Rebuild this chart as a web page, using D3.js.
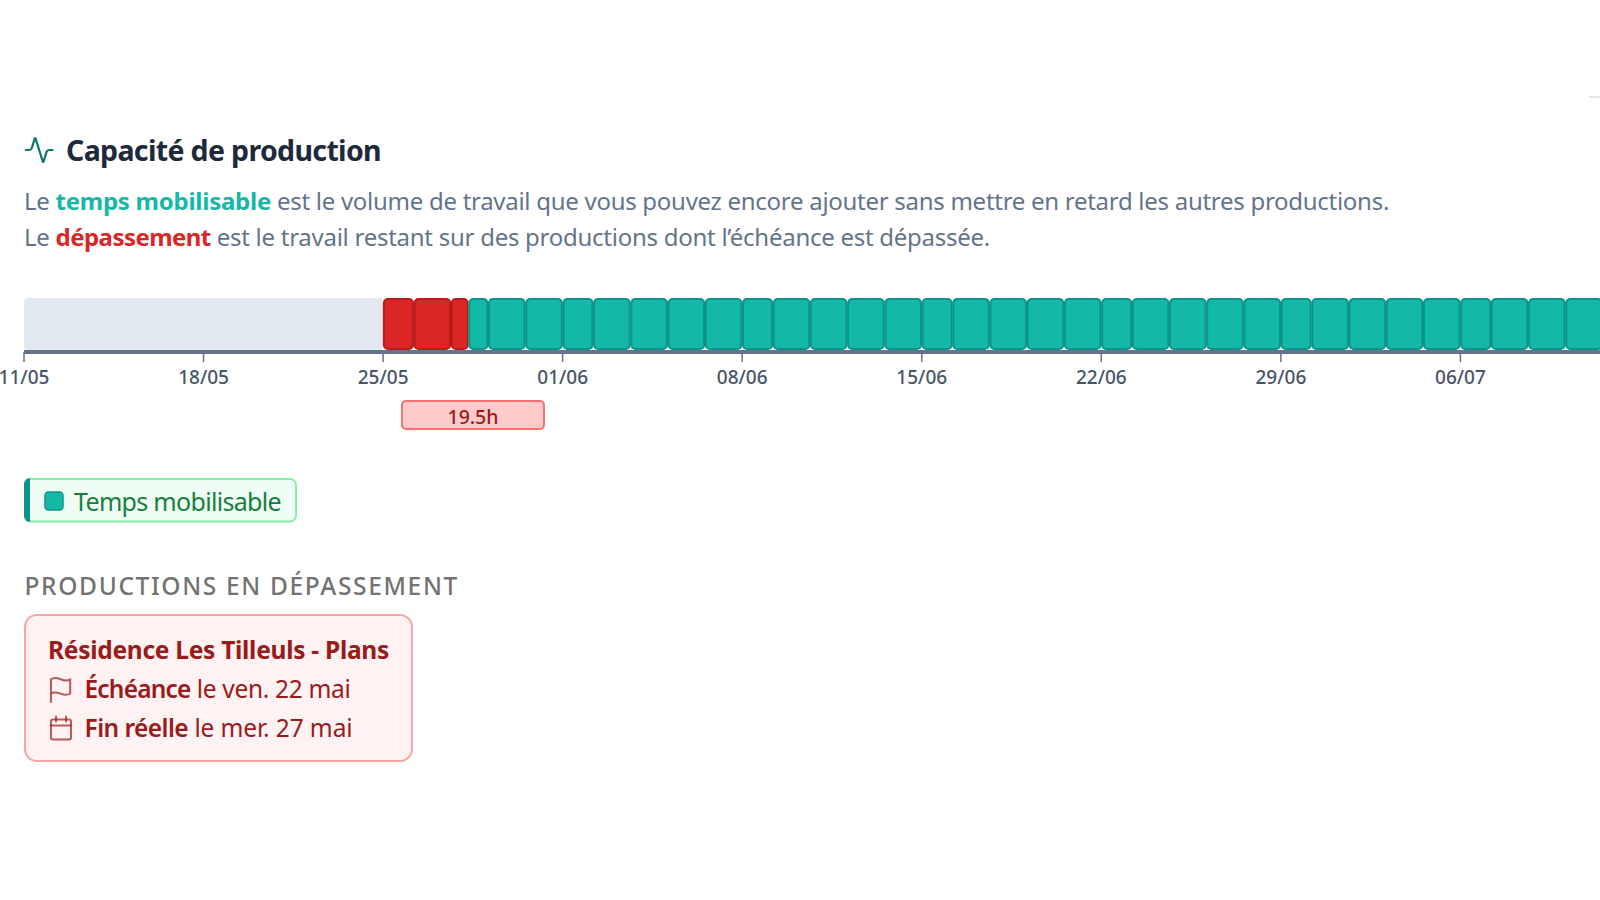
<!DOCTYPE html>
<html lang="fr"><head><meta charset="utf-8">
<script src="https://cdn.jsdelivr.net/npm/d3@7"></script>
<style>html,body{margin:0;padding:0;background:#fff;overflow:hidden}svg{display:block;font-family:"Noto Sans",sans-serif}</style>
</head><body><div id="c"></div>
<script>
const titleText = "Capacité de production";
const pastHours = 82;
const overrunDays = ["25/05","26/05","27/05"];
const overrunHours = [7,8.5,4];
const freeDays = ["27/05","28/05","29/05","01/06","02/06","03/06","04/06","05/06","08/06","09/06","10/06","11/06","12/06","15/06","16/06","17/06","18/06","19/06","22/06","23/06","24/06","25/06","26/06","29/06","30/06","01/07","02/07","03/07","06/07","07/07","08/07","09/07","10/07"];
const freeHours = [4.5,8.5,8.5,7,8.5,8.5,8.5,8.5,7,8.5,8.5,8.5,8.5,7,8.5,8.5,8.5,8.5,7,8.5,8.5,8.5,8.5,7,8.5,8.5,8.5,8.5,7,8.5,8.5,8.5,8.5];
const tickLabels = ["11/05","18/05","25/05","01/06","08/06","15/06","22/06","29/06","06/07"];
const tickHours = [0,41,82,123,164,205,246,287,328];

const svg = d3.select("#c").append("svg").attr("width",1600).attr("height",900);
const x = d3.scaleLinear().domain([0,328]).range([24,1460.4]);

function rich(y,xp,size,parts,w){
  const t=svg.append("text").attr("x",xp).attr("y",y).attr("font-size",size);
  let free=0;
  parts.forEach(p=>{const s=t.append("tspan").text(p[0]).attr("fill",p[1]).attr("font-weight",p[2]);
    if(p[3]!==undefined)s.attr("letter-spacing",p[3]);else free+=p[0].length;});
  if(w&&free){const l=t.node().getComputedTextLength();t.attr("letter-spacing",((w-l)/free).toFixed(3));}
  return t;
}
svg.append("rect").attr("x",1589).attr("y",96).attr("width",11).attr("height",2).attr("fill","#e5e5e5");

svg.append("path").attr("transform","translate(23.2,135.6) scale(1.33,1.2)")
  .attr("d","M22 12h-2.48a2 2 0 0 0-1.93 1.46l-2.35 8.36a.25.25 0 0 1-.48 0L9.24 2.18a.25.25 0 0 0-.48 0l-2.35 8.36A2 2 0 0 1 4.49 12H2")
  .attr("fill","none").attr("stroke","#0f766e").attr("stroke-width",1.7).attr("stroke-linecap","round").attr("stroke-linejoin","round");
rich(161,66,28.5,[[titleText,"#1e293b",700]],315);

const G="#64748b";
rich(209.5,24,24,[["Le ",G,400],["temps mobilisable","#14b8a6",700,-0.25],[" est le volume de travail que vous pouvez encore ajouter sans mettre en retard les autres productions.",G,400]],1365);
rich(246,24,24,[["Le ",G,400],["dépassement","#dc2626",700,-0.55],[" est le travail restant sur des productions dont l’échéance est dépassée.",G,400]],966);

const barTop=298,barH=52;
svg.append("rect").attr("x",x(0)).attr("y",barTop).attr("width",x(pastHours)-x(0)).attr("height",barH).attr("rx",4).attr("fill","#e2e8f0");
function stack(days,hours,start,fill,stroke){
  let acc=start;
  const rows=days.map((d,i)=>{const r={d,h0:acc,h1:acc+hours[i]};acc+=hours[i];return r;});
  svg.append("g").selectAll("rect").data(rows).join("rect")
    .attr("x",r=>x(r.h0)+.8).attr("y",barTop+1).attr("width",r=>x(r.h1)-x(r.h0)-1.6).attr("height",barH-2)
    .attr("rx",4).attr("fill",fill).attr("stroke",stroke).attr("stroke-width",2);
  return acc;
}
const e=stack(overrunDays,overrunHours,pastHours,"#dc2626","#b91c1c");
stack(freeDays,freeHours,e,"#14b8a6","#0d9488");

const axis=d3.axisBottom(x).tickValues(tickHours).tickFormat((d,i)=>tickLabels[i]).tickSize(10).tickPadding(9);
const ag=svg.append("g").attr("transform","translate(-0.5,352)").call(axis);
ag.select(".domain").remove();
ag.selectAll(".tick line").attr("stroke","#64748b").attr("stroke-width",1.5);
ag.selectAll(".tick text").attr("fill","#475569").attr("font-size",19).attr("font-family",'"Noto Sans",sans-serif').attr("font-weight",500);
svg.append("line").attr("x1",x(0)).attr("x2",1600).attr("y1",352).attr("y2",352).attr("stroke","#64748b").attr("stroke-width",4);

const pillHours=19.5;
svg.append("rect").attr("x",402).attr("y",401).attr("width",142).attr("height",28).attr("rx",4).attr("fill","#fecaca").attr("stroke","#f87171").attr("stroke-width",2);
svg.append("text").attr("x",473).attr("y",424).attr("text-anchor","middle").attr("font-size",19.5).attr("font-weight",500).attr("fill","#991b1b").text(pillHours+"h");

svg.append("rect").attr("x",25).attr("y",479).attr("width",271).attr("height",42.5).attr("rx",6).attr("fill","#f0fdf4").attr("stroke","#86efac").attr("stroke-width",2);
svg.append("path").attr("d","M30 478H30a6 6 0 0 0-6 6v32a6 6 0 0 0 6 6z").attr("fill","#0d9488");
svg.append("rect").attr("x",45).attr("y",492).attr("width",18).attr("height",18).attr("rx",3.5).attr("fill","#14b8a6").attr("stroke","#0d9488").attr("stroke-width",1.5);
rich(511,74,25,[["Temps mobilisable","#15803d",400]],207);

rich(595,24.5,24.5,[["PRODUCTIONS EN DÉPASSEMENT","#737373",500]],434.5);
svg.append("rect").attr("x",25).attr("y",615).attr("width",387).attr("height",146).attr("rx",12).attr("fill","#fef2f2").attr("stroke","#fca5a5").attr("stroke-width",2);
const R="#991b1b";
rich(659,48,24.5,[["Résidence Les Tilleuls - Plans",R,700]],341);
rich(698,84.5,24.5,[["Échéance",R,600,-0.8],[" le ven. 22 mai",R,400]],266);
rich(737,84.5,24.5,[["Fin réelle",R,600,-0.55],[" le mer. 27 mai",R,400]],268);
svg.append("path").attr("transform","translate(46.2,675.6) scale(1.2)")
  .attr("d","M4 15s1-1 4-1 5 2 8 2 4-1 4-1V3s-1 1-4 1-5-2-8-2-4 1-4 1z M4 22v-7")
  .attr("fill","none").attr("stroke",R).attr("stroke-opacity",.7).attr("stroke-width",1.7).attr("stroke-linecap","round").attr("stroke-linejoin","round");
svg.append("g").attr("transform","translate(49,716.5)").attr("fill","none").attr("stroke",R).attr("stroke-opacity",.7).attr("stroke-width",2).attr("stroke-linecap","round")
  .call(g=>{g.append("rect").attr("x",2).attr("y",3).attr("width",20).attr("height",20).attr("rx",2);
    g.append("path").attr("d","M7 0v5M17 0v5M2 9h20");});
</script></body></html>
